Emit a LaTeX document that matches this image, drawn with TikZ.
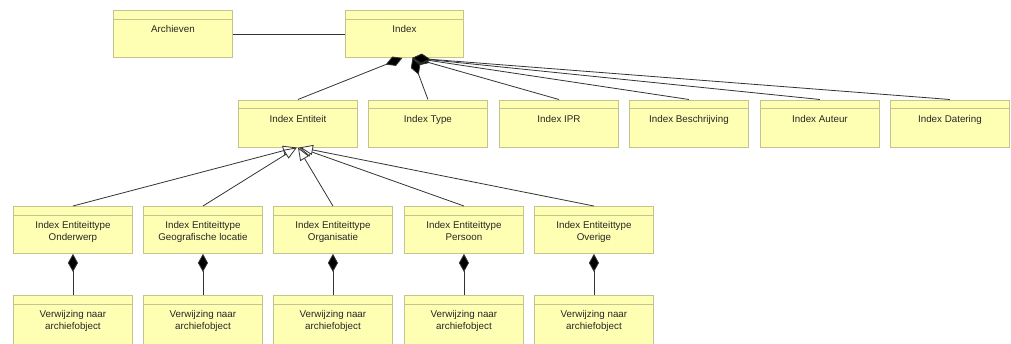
\documentclass[tikz,border=0pt]{standalone}
\usepackage{fontspec}
\setmainfont{Liberation Sans}
\usetikzlibrary{arrows.meta}
\definecolor{boxfill}{HTML}{FFFFB4}
\definecolor{boxline}{HTML}{C4C490}
\definecolor{ink}{HTML}{262626}
\definecolor{wire}{HTML}{333333}
\begin{document}
\begin{tikzpicture}[x=1pt,y=-1pt,
  umlbox/.style={draw=boxline, fill=boxfill, line width=0.9pt,
    minimum width=119pt, minimum height=47pt, anchor=north west, inner sep=0pt,
    path picture={\draw[boxline, line width=0.9pt]
      ([yshift=-8.5pt]path picture bounding box.north west) --
      ([yshift=-8.5pt]path picture bounding box.north east);}},
  lbl/.style={anchor=north, inner sep=0pt, align=center, text=ink,
    font=\fontsize{9.8}{12}\selectfont},
  assoc/.style={draw=wire, line width=0.8pt},
  comp/.style={draw=wire, line width=0.8pt,
    -{Diamond[length=18pt, width=10pt, fill=black]}},
  gen/.style={draw=wire, line width=0.8pt,
    -{Triangle[open, length=13pt, width=10pt, fill=white]}}]

\useasboundingbox (0,0) rectangle (1011,343);

% top row
\node[umlbox] (arch) at (113,10) {};
\node[lbl] (tarch) at ([yshift=-15.5pt]arch.north) {Archieven};
\node[umlbox, minimum width=118pt] (idx) at (345,10) {};
\node[lbl] (tidx) at ([yshift=-15.5pt]idx.north) {Index};
\draw[assoc] (arch.east) -- (idx.west);

% index parts
\foreach \n/\x/\t in {ent/238/Index Entiteit, typ/368/Index Type,
    ipr/499/Index IPR, bes/629/Index Beschrijving,
    aut/760/Index Auteur, dat/890/Index Datering} {
  \node[umlbox] (\n) at (\x,99.5) {};
  \node[lbl] (t\n) at ([yshift=-15.5pt]\n.north) {\t};
}
\coordinate (idxa) at ([xshift=-2pt]idx.south);
\coordinate (idxb) at ([xshift=8pt]idx.south);
\draw[comp] (ent.north) -- (idxa);
\foreach \n in {typ,ipr,bes,aut,dat}
  \draw[comp] (\n.north) -- (idxb);

% entity types and their references
\foreach \i/\x/\t in {1/13/Onderwerp, 2/143/Geografische locatie,
    3/273/Organisatie, 4/404/Persoon, 5/534/Overige} {
  \node[umlbox] (e\i) at (\x,206) {};
  \node[lbl] (te\i) at ([yshift=-15.5pt]e\i.north) {Index Entiteittype\\\t};
  \node[umlbox, minimum height=52pt] (v\i) at (\x,295) {};
  \node[lbl] (tv\i) at ([yshift=-15.5pt]v\i.north) {Verwijzing naar\\archiefobject};
  \draw[comp] (v\i.north) -- (e\i.south);
  \coordinate (g\i) at ([xshift={(\i-3)*1pt}]ent.south);
  \draw[gen] (e\i.north) -- (g\i);
}
\end{tikzpicture}
\end{document}
